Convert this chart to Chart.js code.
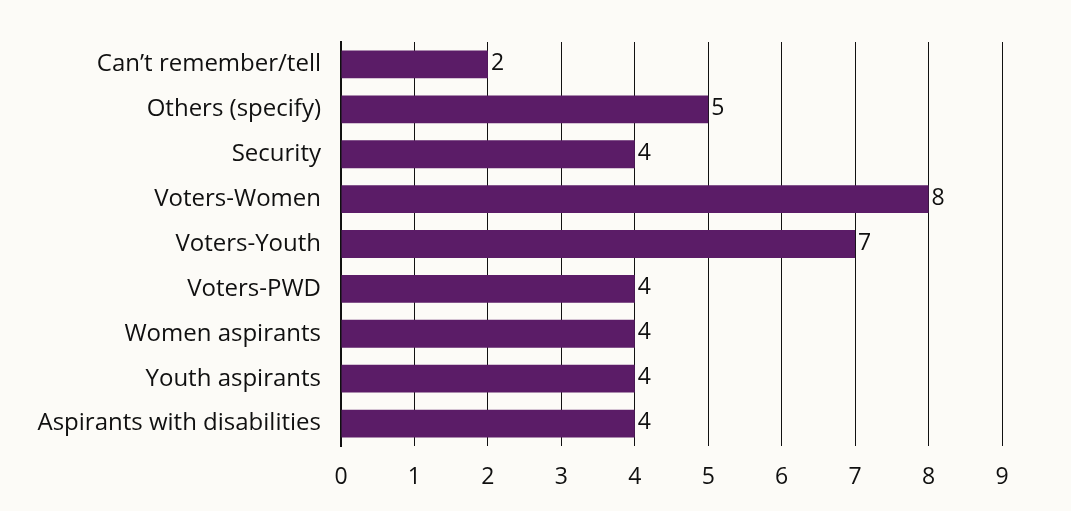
<!DOCTYPE html>
<html>
<head>
<meta charset="utf-8">
<script src="https://cdn.jsdelivr.net/npm/chart.js@4"></script>
<style>
  html, body { margin: 0; padding: 0; background: #fcfbf7; }
  #wrap { width: 1071px; height: 511px; }
</style>
</head>
<body>
<div id="wrap"><canvas id="bars_chart" width="1071" height="511"></canvas></div>
<script>
const categories = ["Can\u2019t remember/tell", "Others (specify)", "Security", "Voters-Women", "Voters-Youth",
  "Voters-PWD", "Women aspirants", "Youth aspirants", "Aspirants with disabilities"];
const counts = [2, 5, 4, 8, 7, 4, 4, 4, 4];
const xTicks = [0, 1, 2, 3, 4, 5, 6, 7, 8, 9];

const barColor = "#5b1c67";
const textColor = "#101010";
const fontFamily = "'Open Sans', Lato, sans-serif";

// writes the count just past the end of each bar
const valueLabels = {
  id: "valueLabels",
  afterDatasetsDraw(chart) {
    const ctx = chart.ctx;
    const meta = chart.getDatasetMeta(0);
    ctx.save();
    ctx.font = "23px " + fontFamily;
    ctx.fillStyle = textColor;
    ctx.textAlign = "left";
    ctx.textBaseline = "middle";
    meta.data.forEach((bar, i) => {
      ctx.fillText(String(counts[i]), bar.x + 3, bar.y - 1);
    });
    ctx.restore();
  }
};

new Chart("bars_chart", {
  type: "bar",
  data: {
    labels: categories,
    datasets: [{
      data: counts,
      backgroundColor: barColor,
      borderWidth: 0,
      barPercentage: 0.62,
      categoryPercentage: 1
    }]
  },
  options: {
    indexAxis: "y",
    responsive: false,
    animation: false,
    layout: { padding: { top: 42, right: 69, bottom: 0, left: 0 } },
    plugins: {
      legend: { display: false },
      tooltip: { enabled: false }
    },
    scales: {
      x: {
        min: 0,
        max: 9,
        afterFit: s => { s.height = 65 },
        afterBuildTicks: s => { s.ticks = xTicks.map(v => ({ value: v })) },
        border: { display: false },
        grid: { color: "#111", lineWidth: 1, drawTicks: false },
        ticks: { padding: 18, color: textColor, font: { family: fontFamily, size: 23 } }
      },
      y: {
        afterFit: s => { s.width = 341 },
        border: { display: true, color: "#111", width: 2 },
        grid: { display: false, drawTicks: false },
        ticks: { padding: 20, color: textColor, font: { family: fontFamily, size: 24 } }
      }
    }
  },
  plugins: [valueLabels]
});
</script>
</body>
</html>
